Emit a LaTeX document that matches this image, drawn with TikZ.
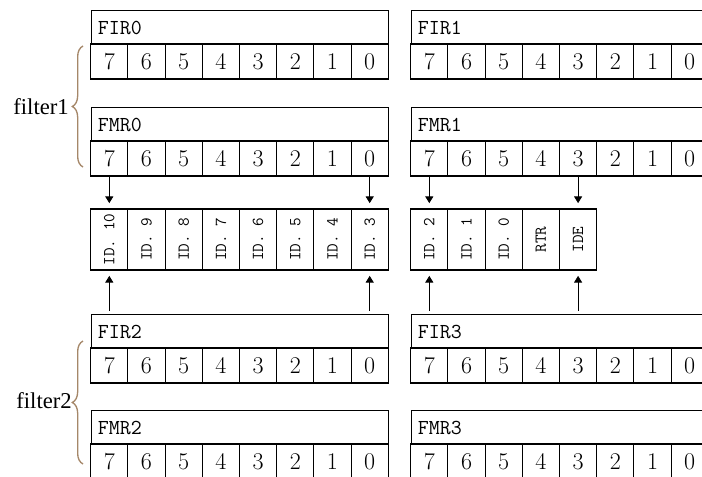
\documentclass[tikz,border=0pt]{standalone}
\usepackage{fontspec}
\usepackage{graphicx}
\newfontfamily\timesfont{Liberation Serif}
\usetikzlibrary{arrows.meta,decorations.pathreplacing}
\definecolor{bracecol}{RGB}{165,135,105}

\begin{document}
\begin{tikzpicture}[x=0.75pt, y=-0.75pt,
    reg/.style={rectangle, draw, line width=0.8pt, anchor=north west, minimum height=25.5pt, text width=213.2pt, inner xsep=5pt, inner ysep=0pt, align=left, font=\ttfamily\fontsize{16}{16}\selectfont},
    bit/.style={rectangle, draw, line width=0.8pt, minimum width=27.9pt, minimum height=26.25pt, inner sep=0pt, font=\fontsize{18}{18}\selectfont},
    idbit/.style={rectangle, draw, line width=0.8pt, minimum width=27.9pt, minimum height=45.75pt, inner sep=0pt, font=\ttfamily\fontsize{12.5}{12.5}\selectfont},
    arrow/.style={-{Triangle[width=6pt,length=5pt]}, line width=0.6pt, shorten >=4pt},
    brace/.style={decorate, decoration={brace, amplitude=8pt}, draw=bracecol, line width=1pt},
    filt/.style={anchor=east, inner sep=0pt, font=\timesfont\fontsize{17}{17}\selectfont}
]
    \useasboundingbox (0,0) rectangle (702,477);
    \clip (0,0) rectangle (702,477);

    % Registers
    \foreach \name/\txt/\x/\y in {fir0/FIR0/90.7/10, fir1/FIR1/410.7/10,
                                  fmr0/FMR0/90.7/107, fmr1/FMR1/410.7/107,
                                  fir2/FIR2/90.7/314, fir3/FIR3/410.7/314,
                                  fmr2/FMR2/90.7/410, fmr3/FMR3/410.7/410}
    {
        \node[reg] (\name) at (\x,\y) {\txt};
        \foreach \b in {7,...,0}
            \node[bit] (\name-\b) at ({\x+(7.5-\b)*37.2}, {\y+51.5}) {\b};
    }

    % Identifier bits
    \foreach \n/\t [count=\i from 0] in {id10/ID. 10, id9/ID. 9, id8/ID. 8, id7/ID. 7,
                                         id6/ID. 6, id5/ID. 5, id4/ID. 4, id3/ID. 3}
        \node[idbit] (\n) at ({90.7+(\i+0.5)*37.2}, 239.5) {\rotatebox{90}{\t}};
    \foreach \n/\t [count=\i from 0] in {id2/ID. 2, id1/ID. 1, id0/ID. 0, rtr/RTR, ide/IDE}
        \node[idbit] (\n) at ({410.7+(\i+0.5)*37.2}, 239.5) {\rotatebox{90}{\t}};

    % Filters
    \node[filt] (filter1) at (69,107) {filter1};
    \node[filt] (filter2) at (72,401) {filter2};
    \draw[brace] (83,167) -- (83,46);
    \draw[brace] (83,464) -- (83,341);

    % Mapping
    \draw[arrow] (fmr0-7.south) -- (id10.north);
    \draw[arrow] (fmr0-0.south) -- (id3.north);
    \draw[arrow] (fmr1-7.south) -- (id2.north);
    \draw[arrow] (fmr1-3.south) -- (ide.north);
    \draw[arrow, shorten <=2.5pt] (fir2-7.north |- fir2.north) -- (id10.south);
    \draw[arrow, shorten <=2.5pt] (fir2-0.north |- fir2.north) -- (id3.south);
    \draw[arrow, shorten <=2.5pt] (fir3-7.north |- fir3.north) -- (id2.south);
    \draw[arrow, shorten <=2.5pt] (fir3-3.north |- fir3.north) -- (ide.south);
\end{tikzpicture}
\end{document}
